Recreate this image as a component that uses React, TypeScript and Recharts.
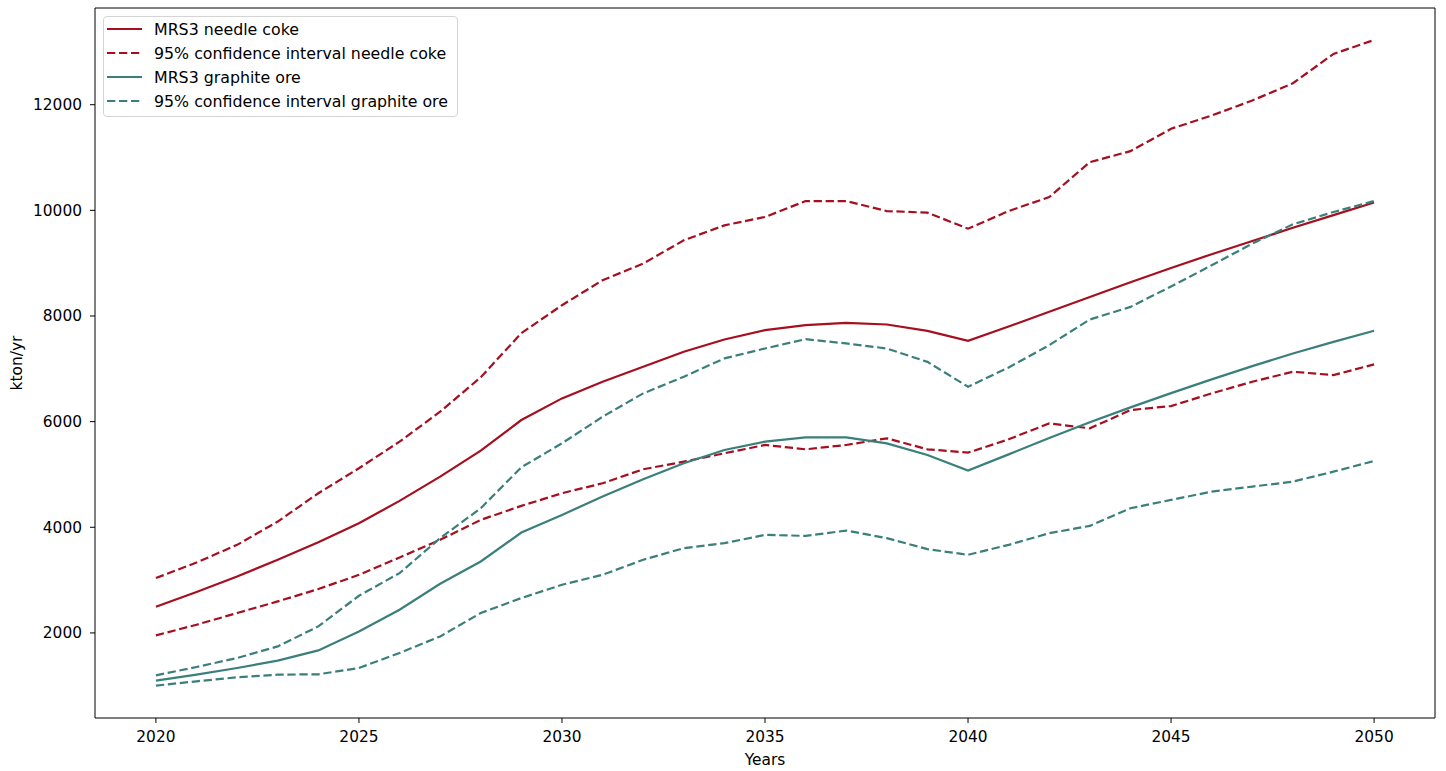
import { LineChart, Line, XAxis, YAxis, Legend, ReferenceLine } from 'recharts'

// Years on the x axis
const years = [
  2020, 2021, 2022, 2023, 2024, 2025, 2026, 2027, 2028, 2029, 2030,
  2031, 2032, 2033, 2034, 2035, 2036, 2037, 2038, 2039, 2040,
  2041, 2042, 2043, 2044, 2045, 2046, 2047, 2048, 2049, 2050,
]

// kton/yr
const needleCoke = [
  2495, 2775, 3068, 3384, 3718, 4077, 4499, 4959, 5450, 6030, 6440,
  6755, 7038, 7322, 7555, 7732, 7826, 7870, 7839, 7719, 7530,
  7800, 8080, 8360, 8640, 8910, 9170, 9420, 9670, 9910, 10150,
]
const needleCokeUpper = [
  3038, 3333, 3667, 4108, 4644, 5117, 5621, 6188, 6840, 7675, 8204,
  8677, 8992, 9433, 9716, 9874, 10176, 10176, 9987, 9956, 9653,
  9987, 10252, 10913, 11121, 11544, 11796, 12079, 12407, 12962, 13226,
]
const needleCokeLower = [
  1953, 2155, 2376, 2596, 2830, 3100, 3427, 3762, 4140, 4405, 4644,
  4833, 5098, 5242, 5400, 5558, 5476, 5558, 5684, 5476, 5413,
  5665, 5967, 5873, 6219, 6295, 6535, 6755, 6944, 6881, 7083,
]
const graphiteOre = [
  1096, 1210, 1336, 1474, 1669, 2028, 2439, 2930, 3352, 3900, 4234,
  4581, 4909, 5212, 5463, 5621, 5703, 5703, 5589, 5369, 5072,
  5380, 5690, 5990, 6270, 6540, 6800, 7050, 7290, 7510, 7720,
]
const graphiteOreUpper = [
  1197, 1355, 1525, 1745, 2123, 2703, 3132, 3794, 4361, 5136, 5589,
  6093, 6535, 6849, 7197, 7385, 7561, 7480, 7385, 7132, 6660,
  7026, 7448, 7934, 8172, 8560, 8960, 9370, 9735, 9968, 10176,
]
const graphiteOreLower = [
  1002, 1084, 1159, 1210, 1216, 1336, 1620, 1934, 2376, 2660, 2911,
  3100, 3384, 3605, 3699, 3856, 3837, 3938, 3794, 3586, 3478,
  3667, 3888, 4026, 4361, 4518, 4675, 4770, 4864, 5053, 5255,
]

const xTicks = [2020, 2025, 2030, 2035, 2040, 2045, 2050]
const yTicks = [2000, 4000, 6000, 8000, 10000, 12000]

const X_DOMAIN: [number, number] = [2018.5, 2051.5]
const Y_DOMAIN: [number, number] = [389, 13831]

const RED = '#a50f1f'
const TEAL = '#3b7f7b'
const DASH = '8.3 3.7'
const LINE_W = 2.2
const FONT = '"DejaVu Sans", sans-serif'

const data = years.map((year, i) => ({
  year,
  needleCoke: needleCoke[i],
  needleCokeUpper: needleCokeUpper[i],
  needleCokeLower: needleCokeLower[i],
  graphiteOre: graphiteOre[i],
  graphiteOreUpper: graphiteOreUpper[i],
  graphiteOreLower: graphiteOreLower[i],
}))

const legendItems = [
  { label: 'MRS3 needle coke', color: RED, dashed: false },
  { label: '95% confidence interval needle coke', color: RED, dashed: true },
  { label: 'MRS3 graphite ore', color: TEAL, dashed: false },
  { label: '95% confidence interval graphite ore', color: TEAL, dashed: true },
]

function LegendBox() {
  return (
    <div
      style={{
        boxSizing: 'border-box',
        width: 355,
        height: 101,
        background: 'rgba(255,255,255,0.8)',
        border: '1px solid #d4d4d4',
        borderRadius: 4,
        paddingLeft: 3,
        fontFamily: FONT,
        fontSize: 15.8,
        color: '#000',
        textAlign: 'left',
      }}
    >
      {legendItems.map((item) => (
        <div key={item.label} style={{ display: 'flex', alignItems: 'center', height: 24 }}>
          <svg width={47} height={24} style={{ flex: 'none', display: 'block' }}>
            <line
              x1={0}
              x2={35}
              y1={12}
              y2={12}
              stroke={item.color}
              strokeWidth={LINE_W}
              strokeDasharray={item.dashed ? DASH : undefined}
            />
          </svg>
          <span style={{ whiteSpace: 'nowrap' }}>{item.label}</span>
        </div>
      ))}
    </div>
  )
}

const tickStyle = { fontSize: 15.4, fill: '#000', fontFamily: FONT }

export default function App() {
  return (
    <div style={{ position: 'absolute', left: 0, top: 0, background: '#fff' }}>
      <LineChart
        width={1446}
        height={771}
        data={data}
        margin={{ top: 8, right: 11, bottom: 0, left: 0 }}
      >
        <XAxis
          dataKey="year"
          type="number"
          domain={X_DOMAIN}
          ticks={xTicks}
          allowDataOverflow
          height={53}
          tickSize={5}
          tickMargin={8}
          tick={tickStyle}
          stroke="#000"
          label={{
            value: 'Years',
            position: 'insideBottom',
            offset: 6,
            style: { fontSize: 15.4, fill: '#000', fontFamily: FONT },
          }}
        />
        <YAxis
          type="number"
          domain={Y_DOMAIN}
          ticks={yTicks}
          allowDataOverflow
          width={95}
          tickSize={5}
          tickMargin={8}
          tick={tickStyle}
          stroke="#000"
          label={{
            value: 'kton/yr',
            angle: -90,
            position: 'insideLeft',
            offset: 17,
            style: { fontSize: 15.4, fill: '#000', fontFamily: FONT, textAnchor: 'middle' },
          }}
        />
        {/* top and right edges of the frame */}
        <ReferenceLine y={Y_DOMAIN[1]} stroke="#000" strokeWidth={1} />
        <ReferenceLine x={X_DOMAIN[1]} stroke="#000" strokeWidth={1} />
        <Legend
          layout="horizontal"
          align="center"
          verticalAlign="middle"
          content={() => <LegendBox />}
          wrapperStyle={{ top: 16, left: 103, width: 'auto' }}
        />
        <Line type="linear" dataKey="needleCoke" stroke={RED} strokeWidth={LINE_W} dot={false} isAnimationActive={false} />
        <Line type="linear" dataKey="needleCokeUpper" stroke={RED} strokeWidth={LINE_W} strokeDasharray={DASH} dot={false} isAnimationActive={false} />
        <Line type="linear" dataKey="needleCokeLower" stroke={RED} strokeWidth={LINE_W} strokeDasharray={DASH} dot={false} isAnimationActive={false} />
        <Line type="linear" dataKey="graphiteOre" stroke={TEAL} strokeWidth={LINE_W} dot={false} isAnimationActive={false} />
        <Line type="linear" dataKey="graphiteOreUpper" stroke={TEAL} strokeWidth={LINE_W} strokeDasharray={DASH} dot={false} isAnimationActive={false} />
        <Line type="linear" dataKey="graphiteOreLower" stroke={TEAL} strokeWidth={LINE_W} strokeDasharray={DASH} dot={false} isAnimationActive={false} />
      </LineChart>
    </div>
  )
}
